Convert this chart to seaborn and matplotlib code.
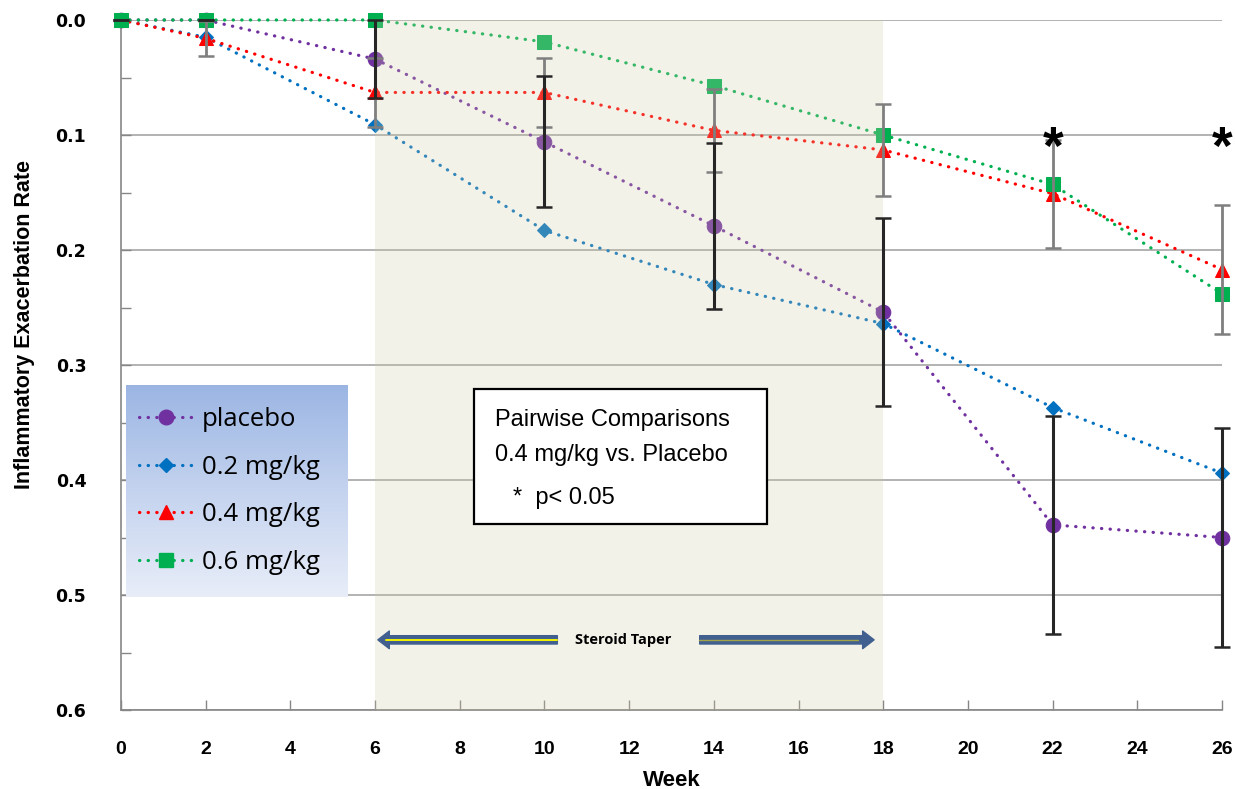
import numpy as np
import matplotlib
matplotlib.use("Agg")
import matplotlib.pyplot as plt
import seaborn as sns
from matplotlib.lines import Line2D
from matplotlib.patches import Rectangle, FancyArrowPatch
from matplotlib.colors import LinearSegmentedColormap
from matplotlib.ticker import MultipleLocator

# ---------------- data ----------------
weeks = [0, 2, 6, 10, 14, 18, 22, 26]
series_names = ["placebo", "0.2 mg/kg", "0.4 mg/kg", "0.6 mg/kg"]
placebo = [0.0, 0.0, 0.034, 0.106, 0.179, 0.254, 0.439, 0.450]
dose_02 = [0.0, 0.015, 0.091, 0.183, 0.230, 0.264, 0.337, 0.394]
dose_04 = [0.0, 0.016, 0.063, 0.063, 0.096, 0.113, 0.151, 0.217]
dose_06 = [0.0, 0.0, 0.0, 0.019, 0.057, 0.100, 0.143, 0.238]
placebo_err = [0.0, 0.0, 0.034, 0.057, 0.072, 0.082, 0.095, 0.095]
dose_04_err = [0.0, 0.015, 0.030, 0.030, 0.036, 0.040, 0.047, 0.056]
star_weeks = [22, 26]
star_level = 0.113
yticks = [0.0, 0.1, 0.2, 0.3, 0.4, 0.5, 0.6]
xticks = list(range(0, 27, 2))
taper_start, taper_end = 6, 18

# ---------------- style ----------------
sns.set_style("white")
plt.rcParams["font.family"] = ["DejaVu Sans"]
plt.rcParams["text.color"] = "black"
SANS = ["Liberation Sans", "DejaVu Sans"]

colors = ["#7030a0", "#0070c0", "#ff0000", "#00b050"]
markers = ["o", "D", "^", "s"]
msizes = [10.5, 7.2, 10.5, 10.0]
dotted = (0, (0.1, 2.6))

fig = plt.figure(figsize=(12.35, 7.89), dpi=100)
ax = fig.add_axes([121 / 1235, 1 - 710 / 789, (1222 - 121) / 1235, (710 - 20) / 789])

all_vals = [placebo, dose_02, dose_04, dose_06]
for name, vals, c, m, ms in zip(series_names, all_vals, colors, markers, msizes):
    sns.lineplot(x=weeks, y=vals, ax=ax, color=c, marker=m, markersize=ms,
                 markeredgecolor=c, lw=2.3, linestyle=dotted,
                 dash_capstyle="round", clip_on=False, zorder=3, legend=False)

# shaded steroid taper region (semi-transparent overlay)
ax.axvspan(taper_start, taper_end, color="#d2cca8", alpha=0.25, lw=0, zorder=4)

# error bars
ax.errorbar(weeks, dose_04, yerr=dose_04_err, fmt="none", ecolor="#7f7f7f",
            elinewidth=2.0, capsize=6, capthick=1.8, zorder=5, clip_on=False)
ax.errorbar(weeks, placebo, yerr=placebo_err, fmt="none", ecolor="#262626",
            elinewidth=2.2, capsize=6, capthick=1.8, zorder=5, clip_on=False)

# axes
ax.set_xlim(0, 26)
ax.set_ylim(0.6, 0.0)
ax.set_xticks(xticks)
ax.set_xticklabels([str(v) for v in xticks], family=SANS, fontweight="bold",
                   fontsize=14, color="black")
ax.set_yticks(yticks)
ax.set_yticklabels([f"{v:.1f}" for v in yticks], fontweight="bold", fontsize=12.5,
                   color="black")
ax.yaxis.set_minor_locator(MultipleLocator(0.05))
ax.tick_params(axis="y", which="both", direction="in", length=7, width=1,
               color="#868686", pad=25, left=True)
ax.tick_params(axis="x", which="both", direction="in", length=7, width=1,
               color="#868686", pad=22, bottom=True)
ax.yaxis.grid(True, color="#a6a6a6", lw=1.2, zorder=0)
ax.xaxis.grid(False)
ax.set_axisbelow(True)
for s in ["top", "right"]:
    ax.spines[s].set_visible(False)
for s in ["left", "bottom"]:
    ax.spines[s].set_color("#868686")
    ax.spines[s].set_linewidth(1.2)

ax.set_xlabel("Week", family=SANS, fontweight="bold", fontsize=16, labelpad=9,
              color="black")
ax.set_ylabel("Inflammatory Exacerbation Rate", family=SANS, fontsize=15.5,
              fontweight="bold", color="black")
ax.yaxis.set_label_coords(-0.078, 0.558)

# significance stars
for w in star_weeks:
    ax.text(w, star_level, "*", ha="center", va="center", fontsize=38,
            fontweight="bold", family=SANS, zorder=6)

# steroid taper arrows
arrow_y = 0.539
blue = "#41608f"
style = "simple,head_width=1.7,head_length=1.1,tail_width=0.8"
a1 = FancyArrowPatch((10.37, arrow_y), (6.0, arrow_y), arrowstyle=style,
                     mutation_scale=7.5, color=blue, zorder=6)
a2 = FancyArrowPatch((13.6, arrow_y), (17.85, arrow_y), arrowstyle=style,
                     mutation_scale=7.5, color=blue, zorder=6)
ax.add_patch(a1)
ax.add_patch(a2)
ax.plot([6.25, 10.3], [arrow_y, arrow_y], color="#f4f400", lw=1.4, zorder=7)
ax.plot([13.65, 17.4], [arrow_y, arrow_y], color="#a3a34a", lw=1.0, zorder=7)
ax.text(11.87, arrow_y, "Steroid Taper", ha="center", va="center",
        fontsize=10.5, fontweight="bold", family=["Open Sans", "DejaVu Sans"],
        zorder=7)

# pairwise comparisons box
ax.add_patch(Rectangle((0.3206, 0.2696), 0.5867 - 0.3206, 0.4652 - 0.2696,
                       transform=ax.transAxes, facecolor="white",
                       edgecolor="black", lw=1.6, zorder=8))
for ytxt, xtxt, txt in [(0.4203, 0.3397, "Pairwise Comparisons"),
                        (0.3696, 0.3397, "0.4 mg/kg vs. Placebo"),
                        (0.3072, 0.356, "*  p< 0.05")]:
    ax.text(xtxt, ytxt, txt, transform=ax.transAxes, family=SANS, fontsize=17,
            va="center", ha="left", zorder=9)

# legend with gradient background
lax = fig.add_axes([126 / 1235, 1 - 597 / 789, (348 - 126) / 1235, (597 - 385) / 789])
grad = np.linspace(0, 1, 256).reshape(-1, 1)
cmap = LinearSegmentedColormap.from_list("lg", ["#9bb5e3", "#c4d3ef", "#e8edf8"])
lax.imshow(grad, cmap=cmap, aspect="auto", extent=[0, 1, 0, 1], origin="upper")
lax.set_axis_off()
handles = [Line2D([0], [0], color=c, marker=m, markersize=ms, markeredgecolor=c,
                  lw=2.3, linestyle=dotted, dash_capstyle="round")
           for c, m, ms in zip(colors, markers, msizes)]
leg = lax.legend(handles, series_names, loc="center left", frameon=False,
                 handlelength=2.1, labelspacing=0.88,
                 borderaxespad=0.1, handletextpad=0.35,
                 prop={"family": ["Open Sans", "DejaVu Sans"], "size": 18.5})

fig.savefig("out.png", dpi=100)
